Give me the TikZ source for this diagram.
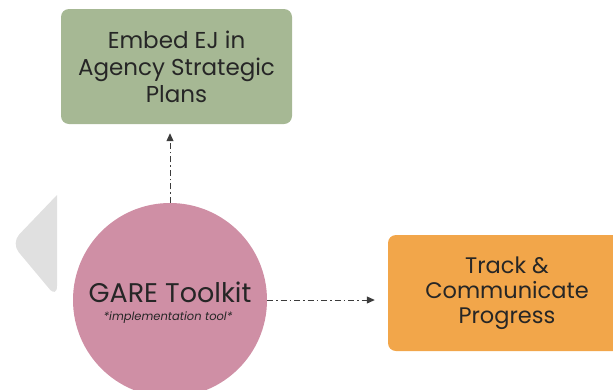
\documentclass[tikz,border=0pt]{standalone}
\usepackage{fontspec}
\setmainfont{Poppins}
\usetikzlibrary{arrows.meta}
\definecolor{sage}{RGB}{166,184,148}
\definecolor{rose}{RGB}{207,143,165}
\definecolor{amber}{RGB}{242,166,74}
\definecolor{pale}{RGB}{224,224,224}
\definecolor{ink}{RGB}{60,60,60}
\tikzset{
  box/.style={rectangle, rounded corners=8pt, inner sep=0pt, align=center, text=black!85,
    font=\fontsize{23}{27}\selectfont},
  conn/.style={draw=ink, line width=1pt, dash pattern=on 6pt off 3pt on 1.5pt off 3pt,
    -{Triangle[length=8pt,width=7pt]}},
}
\begin{document}
\begin{tikzpicture}[x=1pt,y=-1pt]
\useasboundingbox (0,0) rectangle (613,389);
\clip (0,0) rectangle (613,389);
\fill[pale, rounded corners=12pt] (57,195) -- (11,243) -- (57,298) [sharp corners] -- cycle;
\node[box, fill=sage, minimum width=231pt, minimum height=115pt] (plan) at (176.5,66.5)
  {Embed EJ in\\Agency Strategic\\Plans};
\node[box, fill=amber, minimum width=238pt, minimum height=116pt,
  font=\fontsize{22.5}{25}\selectfont] (track) at (507,293)
  {Track \&\\Communicate\\Progress};
\node[circle, fill=rose, minimum size=194pt, inner sep=0pt, text=black!85] (gare) at (170,300) {};
\node[text=black!85, font=\fontsize{27}{30}\selectfont] (title) at (170,292) {GARE Toolkit};
\node[text=black!85, font=\fontsize{11.5}{13}\selectfont\itshape] (sub) at (168,318) {*implementation tool*};
\draw[conn, shorten >=9pt] (gare.north) -- (gare.north |- plan.south);
\draw[conn, shorten >=13pt] (gare.east) -- (gare.east -| track.west);
\end{tikzpicture}
\end{document}
